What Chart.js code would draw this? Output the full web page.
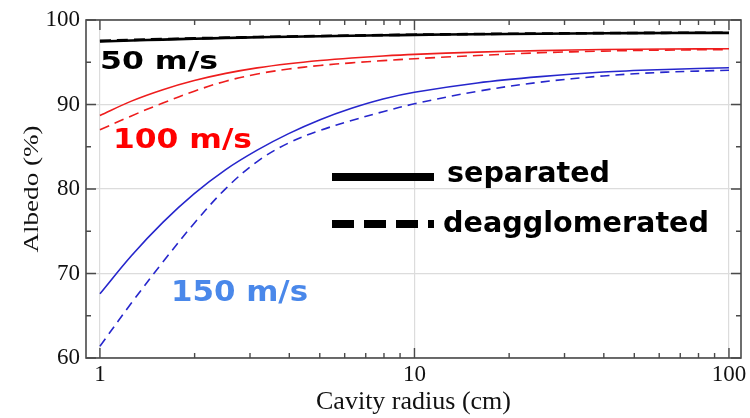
<!DOCTYPE html>
<html><head><meta charset="utf-8">
<script src="https://cdn.jsdelivr.net/npm/chart.js@4/dist/chart.umd.min.js"></script>
<style>html,body{margin:0;padding:0;background:#fff;}</style>
</head><body>
<canvas id="c" width="750" height="418"></canvas>
<script>
// ---- data ----
const radius = [1, 1.259, 1.585, 1.995, 2.512, 3.162, 3.981, 5.012, 6.31, 7.943, 10, 15.85, 25.12, 39.81, 63.1, 100];
const v50Separated      = [97.45, 97.57, 97.68, 97.78, 97.87, 97.95, 98.02, 98.08, 98.14, 98.19, 98.24, 98.32, 98.38, 98.43, 98.46, 98.48];
const v50Deagglomerated = [97.53, 97.64, 97.74, 97.83, 97.91, 97.99, 98.05, 98.11, 98.16, 98.21, 98.26, 98.34, 98.40, 98.45, 98.48, 98.50];
const v100Separated      = [88.7, 90.4, 91.75, 92.83, 93.68, 94.33, 94.82, 95.2, 95.5, 95.74, 95.93, 96.2, 96.38, 96.5, 96.56, 96.6];
const v100Deagglomerated = [87.0, 88.65, 90.18, 91.58, 92.76, 93.61, 94.2, 94.62, 94.93, 95.19, 95.42, 95.8, 96.12, 96.32, 96.44, 96.5];
const v150Separated      = [67.6, 72.1, 76.05, 79.45, 82.3, 84.6, 86.55, 88.2, 89.55, 90.65, 91.45, 92.55, 93.3, 93.85, 94.15, 94.35];
const v150Deagglomerated = [61.4, 66.5, 71.35, 75.95, 80.05, 83.25, 85.45, 86.93, 88.1, 89.15, 90.08, 91.56, 92.64, 93.38, 93.83, 94.05];

const xMajorTicks = [1, 10, 100];
const xMinorTicks = [2, 3, 4, 5, 6, 7, 8, 9, 20, 30, 40, 50, 60, 70, 80, 90];
const yMajorTicks = [60, 70, 80, 90, 100];
const yMinorTicks = [65, 75, 85, 95];

const xTitle = 'Cavity radius (cm)';
const yTitle = 'Albedo (%)';
const speedLabels = ['50 m/s', '100 m/s', '150 m/s'];
const legendLabels = ['separated', 'deagglomerated'];

const pts = vals => radius.map((r, i) => ({x: r, y: vals[i]}));

const RED = '#ee1d1d', BLUE = '#2626cc', BLACK = '#000000';

function stretchText(ctx, text, x, y, font, targetW, color) {
  ctx.save();
  ctx.font = font;
  const w = ctx.measureText(text).width;
  ctx.translate(x, y);
  ctx.scale(targetW / w, 1);
  ctx.fillStyle = color;
  ctx.textAlign = 'left';
  ctx.textBaseline = 'alphabetic';
  ctx.fillText(text, 0, 0);
  ctx.restore();
}

const decor = {
  id: 'decor',
  afterDraw(chart) {
    const ctx = chart.ctx;
    const {left, right, top, bottom} = chart.chartArea;
    const xs = chart.scales.x, ys = chart.scales.y;
    ctx.save();
    // frame
    ctx.strokeStyle = '#4a4a4a';
    ctx.lineWidth = 1.6;
    ctx.strokeRect(left, top, right - left, bottom - top);
    // inward ticks
    ctx.lineWidth = 1.4;
    ctx.beginPath();
    const xt = (v, len) => {
      const p = xs.getPixelForValue(v);
      ctx.moveTo(p, bottom); ctx.lineTo(p, bottom - len);
      ctx.moveTo(p, top); ctx.lineTo(p, top + len);
    };
    const yt = (v, len) => {
      const p = ys.getPixelForValue(v);
      ctx.moveTo(left, p); ctx.lineTo(left + len, p);
      ctx.moveTo(right, p); ctx.lineTo(right - len, p);
    };
    xMajorTicks.forEach(v => xt(v, 10));
    xMinorTicks.forEach(v => xt(v, 5));
    yMajorTicks.forEach(v => yt(v, 10));
    yMinorTicks.forEach(v => yt(v, 5));
    ctx.stroke();

    // y title (rotated, stretched along its length)
    ctx.save();
    ctx.font = '20px "Liberation Serif"';
    const tw = ctx.measureText(yTitle).width;
    ctx.translate(38, 189);
    ctx.rotate(-Math.PI / 2);
    ctx.scale(127 / tw, 1);
    ctx.fillStyle = '#111';
    ctx.textAlign = 'center';
    ctx.textBaseline = 'alphabetic';
    ctx.fillText(yTitle, 0, 0);
    ctx.restore();

    // speed labels
    stretchText(ctx, speedLabels[0], 100, 68.5, 'bold 25px "DejaVu Sans"', 118, '#000');
    stretchText(ctx, speedLabels[1], 113, 148.3, 'bold 27px "DejaVu Sans"', 139, '#ff0000');
    stretchText(ctx, speedLabels[2], 171, 300.5, 'bold 29px "DejaVu Sans"', 137, '#4a88ea');

    // legend marks
    ctx.strokeStyle = '#000';
    ctx.lineWidth = 8;
    ctx.lineCap = 'butt';
    ctx.beginPath(); ctx.moveTo(332, 177); ctx.lineTo(434, 177); ctx.stroke();
    ctx.setLineDash([22, 10]);
    ctx.beginPath(); ctx.moveTo(332, 224); ctx.lineTo(434, 224); ctx.stroke();
    ctx.setLineDash([]);
    stretchText(ctx, legendLabels[0], 447, 182, 'bold 29px "DejaVu Sans"', 163, '#000');
    stretchText(ctx, legendLabels[1], 443, 232, 'bold 29px "DejaVu Sans"', 266, '#000');
    ctx.restore();
  }
};

new Chart(document.getElementById('c'), {
  type: 'line',
  data: {
    datasets: [
      {label: '50 m/s separated', data: pts(v50Separated), borderColor: BLACK, borderWidth: 2.6},
      {label: '50 m/s deagglomerated', data: pts(v50Deagglomerated), borderColor: BLACK, borderWidth: 2.6, borderDash: [11, 6]},
      {label: '100 m/s separated', data: pts(v100Separated), borderColor: RED, borderWidth: 1.6},
      {label: '100 m/s deagglomerated', data: pts(v100Deagglomerated), borderColor: RED, borderWidth: 1.6, borderDash: [10, 6]},
      {label: '150 m/s separated', data: pts(v150Separated), borderColor: BLUE, borderWidth: 1.6},
      {label: '150 m/s deagglomerated', data: pts(v150Deagglomerated), borderColor: BLUE, borderWidth: 1.6, borderDash: [9, 6]}
    ].map(d => Object.assign(d, {pointRadius: 0, fill: false, tension: 0.35}))
  },
  options: {
    responsive: false,
    animation: false,
    devicePixelRatio: 1,
    layout: {padding: {top: 20, right: 9, left: 0, bottom: 0}},
    plugins: {legend: {display: false}, tooltip: {enabled: false}},
    scales: {
      x: {
        type: 'logarithmic',
        min: 0.903, max: 109.2,
        afterBuildTicks: s => { s.ticks = xMajorTicks.concat(xMinorTicks).sort((a, b) => a - b).map(v => ({value: v})); },
        afterFit: s => { s.height = 60; },
        ticks: {
          autoSkip: false, maxRotation: 0, padding: 3,
          color: '#111', font: {family: 'Liberation Serif', size: 23},
          callback: v => xMajorTicks.includes(v) ? String(v) : ''
        },
        grid: {drawTicks: false, color: c => (c.tick && xMajorTicks.includes(c.tick.value)) ? '#dcdcdc' : 'rgba(0,0,0,0)', lineWidth: 1.2},
        border: {display: false},
        title: {display: true, text: xTitle, color: '#111', font: {family: 'Liberation Serif', size: 26}, padding: {top: 0, bottom: 0}}
      },
      y: {
        type: 'linear',
        min: 60, max: 100,
        afterBuildTicks: s => { s.ticks = yMajorTicks.concat(yMinorTicks).sort((a, b) => a - b).map(v => ({value: v})); },
        afterFit: s => { s.width = 86; },
        ticks: {
          padding: 6, color: '#111', font: {family: 'Liberation Serif', size: 23},
          callback: v => yMajorTicks.includes(v) ? String(v) : ''
        },
        grid: {drawTicks: false, color: c => (c.tick && yMajorTicks.includes(c.tick.value)) ? '#dcdcdc' : 'rgba(0,0,0,0)', lineWidth: 1.2},
        border: {display: false}
      }
    }
  },
  plugins: [decor]
});
</script>
</body></html>
